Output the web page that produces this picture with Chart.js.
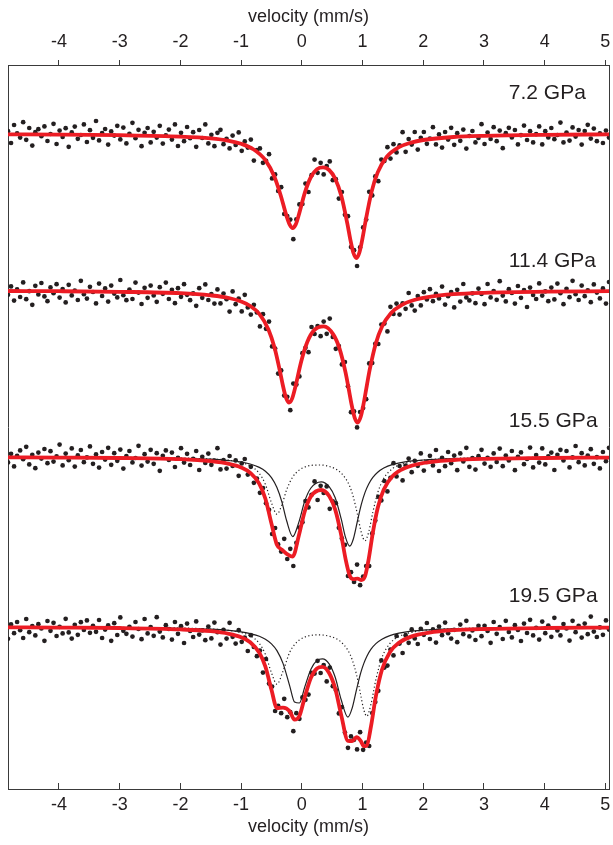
<!DOCTYPE html>
<html><head><meta charset="utf-8">
<script src="https://cdn.jsdelivr.net/npm/chart.js@4/dist/chart.umd.min.js"></script>
<style>html,body{margin:0;padding:0;background:#fff;}#wrap{width:613px;height:845px;}</style>
</head><body><div id="wrap"><canvas id="c" width="613" height="845" style="width:613px;height:845px"></canvas></div>
<script>
// ---------------- DATA ----------------
const pressures = ['7.2 GPa', '11.4 GPa', '15.5 GPa', '19.5 GPa'];
const tickValues = [-4, -3, -2, -1, 0, 1, 2, 3, 4, 5];
const tickLabels = ['-4', '-3', '-2', '-1', '0', '1', '2', '3', '4', '5'];
// stacking offsets (relative transmission, %) for the four spectra
const stackOffsets = [0, -7.83, -16.15, -24.65];
// channel velocities (mm/s): calibration start and step
const VELOCITY_START = -4.84, VELOCITY_STEP = 0.05, CHANNELS = 199;

// measured relative transmission (%), one value per channel
const counts7_2 = [
100.14,99.55,100.45,100.03,99.82,100.59,99.71,100.30,99.42,100.09,
100.24,99.89,100.38,99.65,100.00,100.51,99.50,100.17,99.85,100.29,
99.36,100.08,100.37,99.76,99.95,100.48,99.60,100.19,99.81,100.65,
99.68,100.05,100.25,99.47,100.13,99.92,100.41,99.73,100.32,99.53,
100.01,100.56,99.79,100.21,99.39,100.06,100.30,99.58,100.11,99.82,
100.41,99.52,99.93,100.22,99.72,100.48,99.40,100.06,99.64,100.35,
99.79,100.09,99.36,100.20,99.80,100.48,99.53,99.96,99.39,100.06,
100.21,99.49,99.76,99.28,99.92,99.45,100.08,99.16,99.63,99.32,
99.72,98.67,99.20,99.28,98.56,98.66,98.99,97.78,97.98,97.15,
97.34,96.00,95.90,95.72,94.74,95.73,96.48,96.50,97.52,97.10,
97.94,98.72,98.06,98.56,97.98,98.40,98.63,97.69,97.74,96.77,
97.10,95.96,95.89,94.35,94.19,93.40,94.33,95.33,95.72,97.11,
96.93,97.88,97.64,98.72,98.65,99.34,98.77,99.49,99.08,99.43,
100.09,99.11,99.75,99.47,100.10,99.22,99.81,100.10,99.51,99.77,
100.34,99.48,99.98,99.32,100.10,99.72,100.31,99.46,100.04,99.66,
100.22,99.27,99.90,100.15,99.58,99.80,100.49,99.50,100.07,99.75,
100.34,99.64,100.17,99.29,100.04,100.31,99.83,100.20,99.48,99.94,
100.42,99.70,100.14,99.58,99.99,100.38,99.48,100.14,99.83,100.30,
99.74,99.95,100.57,99.58,100.07,99.67,100.33,99.87,100.20,99.47,
100.15,100.46,99.77,100.27,99.64,100.03,99.55,100.17,99.82];
const counts11_4 = [
99.79,100.21,99.50,100.06,99.68,100.41,99.57,99.97,99.29,100.24,
99.81,100.38,99.71,99.47,100.16,99.87,100.32,99.65,100.08,99.41,
100.29,99.76,100.00,99.53,100.49,99.82,99.60,100.19,99.93,99.36,
100.35,99.73,100.11,99.45,100.25,99.85,99.66,100.53,99.77,99.52,
100.05,99.58,100.40,99.90,99.33,100.14,99.64,100.25,99.76,99.44,
100.17,99.84,100.40,99.58,100.04,99.37,100.12,99.69,100.32,99.79,
99.52,99.86,99.24,100.12,99.64,100.31,99.53,99.83,99.35,100.06,
99.36,99.85,99.57,98.95,99.96,99.32,99.60,98.96,99.79,99.16,
98.80,99.29,98.91,98.21,98.82,98.09,98.45,97.21,97.10,95.85,
96.01,94.75,94.69,94.02,95.35,95.30,95.71,96.87,97.14,96.92,
98.18,97.83,98.23,97.72,98.45,97.84,98.60,97.68,97.09,97.23,
96.31,96.43,95.22,93.92,93.96,93.16,93.93,94.13,94.57,96.36,
96.38,97.34,97.33,98.30,98.35,97.96,99.19,98.83,99.35,98.80,
99.36,99.09,99.88,99.26,99.00,99.73,99.26,99.92,99.56,100.07,
99.47,99.84,99.61,100.20,99.30,99.72,99.93,99.16,100.04,99.45,
100.33,99.66,99.51,99.86,99.37,100.10,99.83,99.32,100.33,99.66,
99.98,99.54,100.47,99.75,99.46,100.07,99.88,99.35,100.23,99.64,
100.02,99.18,100.15,99.78,99.58,100.36,99.75,99.96,99.47,100.15,
99.56,100.35,99.87,99.32,100.09,99.67,100.49,99.82,99.53,100.25,
99.72,100.01,99.42,100.31,99.90,99.61,100.11,99.35,100.43];
const counts15_5 = [
99.73,100.16,99.53,100.06,100.33,99.89,100.51,99.63,100.11,99.44,
100.22,99.92,100.40,99.69,100.29,99.77,100.03,100.62,99.58,100.17,
99.84,100.43,99.52,100.08,100.35,99.74,99.98,100.53,99.66,100.13,
99.47,100.25,99.87,100.46,99.61,100.19,99.81,100.37,99.42,100.05,
100.30,99.73,99.95,100.56,99.57,100.14,99.77,100.36,99.66,100.19,
99.31,100.06,100.33,99.85,100.22,99.50,99.96,100.44,99.72,100.16,
99.60,99.91,100.30,99.35,100.01,99.70,100.17,99.61,99.82,100.44,
99.38,99.84,99.42,100.05,99.55,99.83,99.06,99.68,99.90,99.12,
99.51,98.71,98.92,98.21,98.45,97.69,97.36,96.15,96.45,95.63,
95.27,95.91,94.90,95.41,94.55,95.71,96.47,96.74,97.80,97.48,
98.11,98.78,97.85,98.56,98.20,98.53,97.41,97.78,97.69,96.46,
95.93,95.61,94.05,94.24,93.75,94.62,93.59,94.02,94.55,94.55,
96.18,96.82,98.01,97.83,98.80,98.28,98.96,99.69,99.03,99.55,
98.83,99.57,99.92,99.24,99.81,99.56,100.18,99.32,99.75,100.06,
99.58,100.35,99.30,99.96,99.54,100.25,99.69,100.07,99.34,100.18,
99.78,100.46,99.51,99.94,99.37,100.04,100.36,99.67,99.96,99.51,
100.18,99.75,100.42,99.54,100.07,99.83,100.30,99.34,100.01,100.23,
99.64,99.90,100.47,99.48,100.10,99.72,100.43,99.63,100.03,100.22,
99.35,100.11,100.36,99.83,100.30,99.48,99.98,100.55,99.74,100.19,
99.58,100.07,100.39,99.66,99.99,99.43,100.25,99.79,100.46];
const counts19_5 = [
99.41,100.13,99.69,100.25,99.84,99.45,100.40,99.74,100.05,99.58,
100.14,99.93,99.31,100.30,99.81,100.21,99.55,100.01,99.68,100.41,
99.73,99.42,100.11,99.61,100.24,99.85,100.33,99.71,100.06,99.76,
100.35,99.45,99.87,100.08,99.31,100.19,99.60,100.48,99.81,99.66,
100.01,99.52,100.25,99.90,99.39,100.40,99.68,100.00,99.56,100.49,
99.77,99.48,100.09,99.90,99.37,100.25,99.66,100.04,99.20,100.17,
99.80,99.50,100.28,99.62,99.83,99.34,100.02,99.43,100.22,99.74,
99.12,99.86,99.42,100.21,99.51,99.17,99.84,99.26,99.47,98.80,
99.59,99.00,98.54,98.82,97.72,98.40,97.17,97.02,95.80,96.06,
95.69,96.41,95.49,95.74,94.79,95.69,95.41,96.48,96.36,96.62,
97.71,97.67,98.31,97.70,98.10,97.28,97.97,97.04,96.85,95.68,
95.99,94.72,93.96,94.53,94.36,93.88,94.74,93.86,94.22,94.05,
95.70,96.25,96.81,98.33,97.97,98.07,98.87,98.58,99.55,99.17,
98.70,99.59,99.21,99.88,99.43,99.15,99.91,99.61,100.20,99.40,
99.88,99.22,100.02,99.59,100.22,99.69,99.42,99.86,99.24,100.12,
99.64,100.31,99.53,99.83,99.35,100.06,99.54,100.06,99.80,99.21,
100.25,99.66,99.99,99.40,100.31,99.75,99.48,100.09,99.85,99.30,
100.17,99.70,100.36,99.58,99.96,99.37,100.27,99.69,100.07,99.51,
100.46,99.83,99.58,100.15,99.93,99.32,100.31,99.74,100.06,99.47,
100.17,99.64,100.52,99.77,99.50,99.98,99.61,100.33,99.87];

// fitted envelopes (red), tabulated
const fitVel7_2 = [-4.84,-4,-3,-2,-1.5,-1.2,-1.0,-0.8,-0.6,-0.45,-0.35,-0.25,-0.2,-0.15,-0.1,-0.05,0.05,0.15,0.25,0.35,0.45,0.55,0.65,0.75,0.8,0.85,0.9,0.95,1.0,1.05,1.15,1.25,1.4,1.6,1.8,2.0,2.5,3,4,5.06];
const fit7_2 = [99.98,99.97,99.94,99.87,99.78,99.66,99.51,99.24,98.69,97.85,96.95,95.88,95.47,95.30,95.48,95.95,97.07,97.85,98.24,98.33,98.20,97.76,96.91,95.52,94.71,94.05,93.80,94.09,94.79,95.64,97.12,98.08,98.86,99.34,99.57,99.70,99.85,99.91,99.96,99.98];
const fitVel11_4 = [-4.84,-4,-3,-2,-1.5,-1.2,-1.0,-0.85,-0.7,-0.55,-0.45,-0.36,-0.31,-0.26,-0.21,-0.16,-0.11,-0.01,0.09,0.2,0.36,0.52,0.62,0.72,0.77,0.82,0.87,0.92,0.97,1.02,1.07,1.12,1.22,1.32,1.47,1.65,1.85,2.1,2.5,3,4,5.06];
const fit11_4 = [99.98,99.97,99.94,99.87,99.76,99.63,99.45,99.23,98.84,98.06,97.15,95.96,95.23,94.64,94.40,94.60,95.14,96.46,97.43,98.01,98.21,97.80,97.11,95.91,95.12,94.30,93.65,93.40,93.69,94.38,95.24,96.07,97.37,98.19,98.88,99.29,99.53,99.69,99.82,99.89,99.95,99.97];
const fitVel15_5 = [-4.84,-4,-3,-2,-1.5,-1.2,-1.0,-0.85,-0.7,-0.6,-0.5,-0.41,-0.33,-0.25,-0.15,-0.05,0.05,0.15,0.32,0.45,0.55,0.65,0.72,0.79,0.85,0.92,0.98,1.04,1.1,1.17,1.25,1.35,1.5,1.7,2.0,2.5,3,4,5.06];
const fit15_5 = [99.98,99.97,99.95,99.89,99.79,99.66,99.48,99.21,98.66,97.91,96.67,95.61,95.37,95.16,95.02,96.06,97.30,98.03,98.35,98.05,97.37,96.08,94.91,94.06,93.89,93.92,93.85,94.03,94.87,96.22,97.45,98.37,99.06,99.45,99.70,99.85,99.91,99.95,99.97];
const siteA15_5 = [99.99,99.98,99.97,99.93,99.89,99.82,99.75,99.65,99.48,99.29,98.97,98.47,97.77,96.81,96.02,96.73,97.81,98.45,98.76,98.52,97.96,96.89,95.98,95.54,95.91,96.85,97.63,98.22,98.64,98.98,99.24,99.45,99.63,99.76,99.85,99.92,99.95,99.97,99.99];
const siteB15_5 = [99.99,99.99,99.98,99.95,99.90,99.84,99.73,99.56,99.18,98.63,97.71,97.14,97.60,98.36,99.00,99.33,99.50,99.58,99.60,99.53,99.41,99.19,98.93,98.53,97.98,97.08,96.22,95.81,96.23,97.24,98.21,98.93,99.43,99.69,99.84,99.93,99.96,99.98,99.99];
const fitVel19_5 = [-4.84,-4,-3,-2,-1.5,-1.2,-1.0,-0.85,-0.7,-0.6,-0.5,-0.41,-0.31,-0.2,-0.12,-0.04,0.05,0.15,0.25,0.34,0.45,0.55,0.65,0.76,0.83,0.9,0.97,1.02,1.07,1.14,1.22,1.32,1.45,1.6,1.8,2.1,2.5,3,4,5.06];
const fit19_5 = [99.98,99.97,99.95,99.88,99.79,99.66,99.49,99.24,98.71,98.02,96.86,95.95,95.97,95.79,95.37,95.55,96.51,97.46,97.93,98.01,97.70,96.92,95.58,94.31,94.30,94.49,94.31,94.04,94.07,95.04,96.54,97.86,98.74,99.21,99.52,99.72,99.84,99.90,99.95,99.97];
const siteA19_5 = [99.99,99.98,99.97,99.93,99.89,99.83,99.76,99.67,99.54,99.39,99.16,98.82,98.18,97.06,96.25,96.20,97.02,97.89,98.33,98.41,98.16,97.49,96.35,95.49,95.95,96.86,97.71,98.17,98.53,98.89,99.17,99.39,99.57,99.69,99.79,99.86,99.91,99.95,99.97,99.98];
const siteB19_5 = [99.99,99.99,99.98,99.95,99.90,99.83,99.73,99.56,99.18,98.63,97.71,97.14,97.79,98.73,99.12,99.35,99.50,99.58,99.61,99.60,99.54,99.44,99.24,98.83,98.36,97.63,96.60,95.87,95.54,96.15,97.37,98.47,99.17,99.52,99.73,99.86,99.92,99.95,99.98,99.99];

// ---------------- STYLE / LAYOUT ----------------
const FONT = '"Liberation Sans", Arial, Helvetica, sans-serif';
const TEXT = '#231f20', AXIS = '#3a3a3a', DOT = '#231f20', RED = '#ec1c24', BLACK = '#231f20';
const VMIN = -4.84, VMAX = 5.06, YMIN = 67.25, YMAX = 103.45;
const LABEL_V = 3.41;
const labelRise = [2.05, 1.45, 1.8, 1.55];

const channelVelocity = Array.from({length: CHANNELS}, (_, i) => +(VELOCITY_START + VELOCITY_STEP * i).toFixed(2));
const spectra = [counts7_2, counts11_4, counts15_5, counts19_5];
const fits = [[fitVel7_2, fit7_2], [fitVel11_4, fit11_4], [fitVel15_5, fit15_5], [fitVel19_5, fit19_5]];
const sites = [null, null, [fitVel15_5, siteA15_5, siteB15_5], [fitVel19_5, siteA19_5, siteB19_5]];

const datasets = [];
spectra.forEach((vals, k) => {
  datasets.push({
    label: pressures[k] + ' data', showLine: false, order: 2,
    data: vals.map((t, i) => ({x: channelVelocity[i], y: t + stackOffsets[k]})),
    pointRadius: 2.35, pointBackgroundColor: DOT, pointBorderWidth: 0, pointBorderColor: DOT
  });
});
sites.forEach((s, k) => {
  if (!s) return;
  const [vel, a, b] = s;
  datasets.push({
    label: pressures[k] + ' site A', order: 1, pointRadius: 0, borderColor: BLACK, borderWidth: 1.2,
    cubicInterpolationMode: 'monotone', fill: false,
    data: a.map((t, i) => ({x: vel[i], y: t + stackOffsets[k]}))
  });
  datasets.push({
    label: pressures[k] + ' site B', order: 1, pointRadius: 0, borderColor: BLACK, borderWidth: 1.2,
    borderDash: [1.2, 2.4], cubicInterpolationMode: 'monotone', fill: false,
    data: b.map((t, i) => ({x: vel[i], y: t + stackOffsets[k]}))
  });
});
fits.forEach(([vel, vals], k) => {
  datasets.push({
    label: pressures[k] + ' fit', order: 0, pointRadius: 0, borderColor: RED, borderWidth: 3.8,
    cubicInterpolationMode: 'monotone', fill: false, borderCapStyle: 'round', borderJoinStyle: 'round',
    data: vals.map((t, i) => ({x: vel[i], y: t + stackOffsets[k]}))
  });
});

const pressureLabels = {
  id: 'pressureLabels',
  afterDatasetsDraw(chart) {
    const {ctx, scales: {x, y}} = chart;
    ctx.save();
    ctx.font = '21px ' + FONT;
    ctx.fillStyle = TEXT; ctx.textAlign = 'left'; ctx.textBaseline = 'middle';
    pressures.forEach((p, k) => {
      ctx.fillText(p, x.getPixelForValue(LABEL_V), y.getPixelForValue(100 + stackOffsets[k] + labelRise[k]));
    });
    ctx.restore();
  }
};

function xAxis(position) {
  const top = position === 'top';
  return {
    type: 'linear', position, min: VMIN, max: VMAX,
    afterBuildTicks: s => { s.ticks = tickValues.map(v => ({value: v})); },
    afterFit: s => { s.height = top ? 65 : 56; s.paddingLeft = 0; s.paddingRight = 0; },
    ticks: { font: {family: FONT, size: 18}, color: TEXT, padding: top ? 7 : 11, maxRotation: 0, autoSkip: false,
             callback: v => tickLabels[tickValues.indexOf(v)] },
    grid: { drawOnChartArea: false, drawTicks: true, tickLength: top ? 5 : -6, color: AXIS, lineWidth: 1 },
    border: { display: true, color: AXIS, width: 1 },
    title: { display: true, text: 'velocity (mm/s)', font: {family: FONT, size: 18}, color: TEXT,
             padding: top ? {top: 6, bottom: 0} : {top: 0, bottom: 7} }
  };
}
function yAxis(position) {
  return {
    type: 'linear', position, min: YMIN, max: YMAX,
    afterFit: s => { s.width = 0; s.paddingTop = 0; s.paddingBottom = 0; },
    ticks: { display: false },
    grid: { display: false, drawTicks: false },
    border: { display: true, color: AXIS, width: 1 }
  };
}

new Chart(document.getElementById('c'), {
  type: 'line',
  data: { datasets },
  options: {
    responsive: false, devicePixelRatio: 1, animation: false, events: [],
    layout: { padding: {left: 8, right: 4, top: 0, bottom: 0} },
    plugins: { legend: {display: false}, tooltip: {enabled: false}, title: {display: false} },
    scales: { x: xAxis('bottom'), x2: xAxis('top'), y: yAxis('left'), yR: yAxis('right') }
  },
  plugins: [pressureLabels]
});
</script></body></html>
